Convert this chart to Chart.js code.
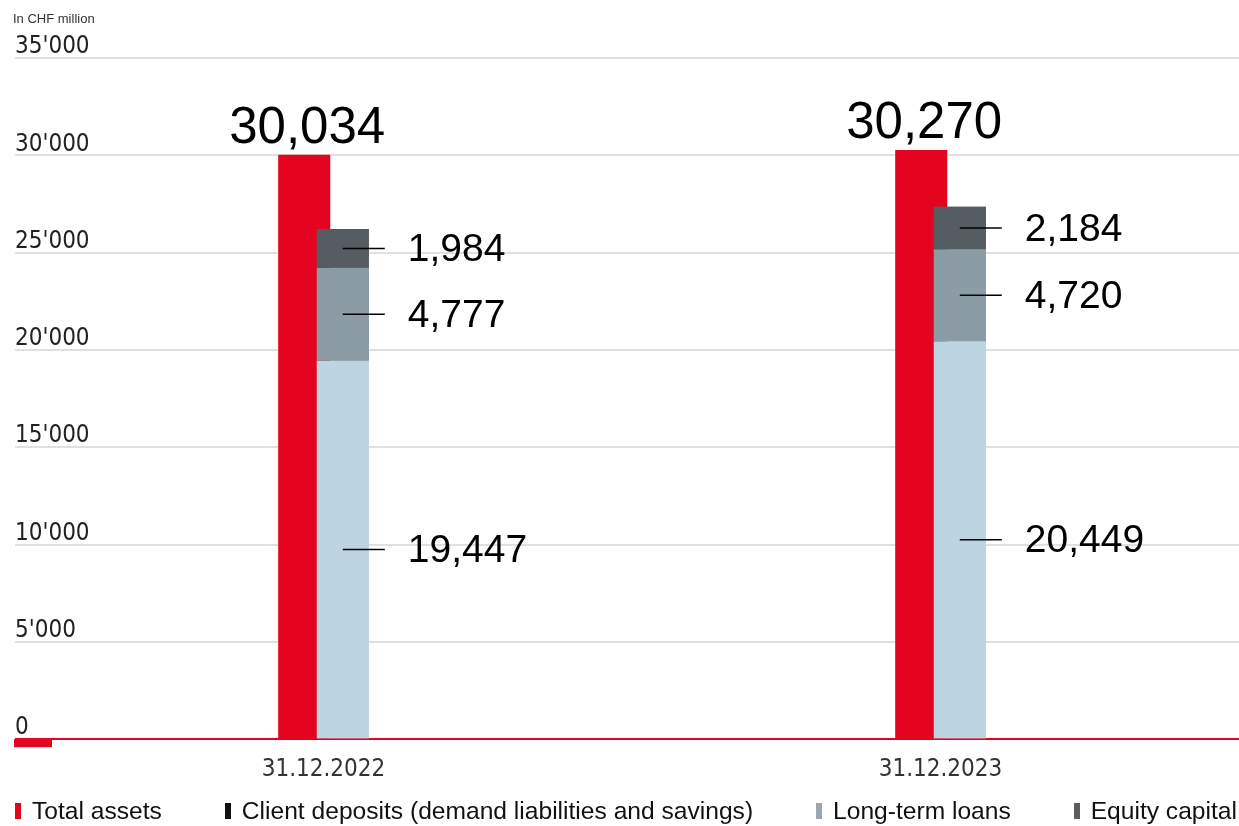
<!DOCTYPE html>
<html>
<head>
<meta charset="utf-8">
<script src="https://cdn.jsdelivr.net/npm/chart.js@4.4.1/dist/chart.umd.min.js"></script>
<style>
  html, body { margin: 0; padding: 0; background: #fff; overflow: hidden; }
  #wrap { position: relative; width: 1250px; height: 800px; }
  #legend {
    position: absolute; left: 15px; right: 2px; top: 797px; height: 28px;
    display: flex; justify-content: space-between; align-items: center;
    font-family: 'Liberation Sans', Arial, sans-serif; font-size: 24.6px; color: #111;
  }
  #legend span.item { display: flex; align-items: center; white-space: nowrap; }
  #legend i { display: inline-block; width: 6px; height: 16px; margin-right: 11px; }
</style>
</head>
<body>
<div id="wrap"><canvas id="balanceChart"></canvas></div>
<div id="legend"></div>
<script>
// Bilanzstruktur in Mio. CHF
const categories = ['31.12.2022', '31.12.2023'];
const totalAssets = [30034, 30270];
const clientDeposits = [19447, 20449];
const longTermLoans = [4777, 4720];
const equityCapital = [1984, 2184];
const yTickLabels = ["0", "5'000", "10'000", "15'000", "20'000", "25'000", "30'000", "35'000"];

const seriesNames = ['Total assets', 'Client deposits (demand liabilities and savings)', 'Long-term loans', 'Equity capital'];
const barColors = ['#e30520', '#bdd5e0', '#8c9ca5', '#555d63'];
const legendColors = ['#e30520', '#111111', '#9aa7b0', '#5a5d60'];

const numFont = "'Liberation Sans', Arial, sans-serif";
const narrowFont = "'Liberation Sans Narrow', 'DejaVu Sans Condensed', 'Arial Narrow', sans-serif";

// legenda sotto il grafico
const legendEl = document.getElementById('legend');
seriesNames.forEach(function (name, i) {
    const item = document.createElement('span');
    item.className = 'item';
    item.innerHTML = '<i style="background:' + legendColors[i] + '"></i>' + name;
    legendEl.appendChild(item);
});

const fmt = function (v) { return v.toLocaleString('en-US'); };

// le colonne impilate vanno sopra la colonna rossa
const stackOnTop = {
    id: 'stackOnTop',
    afterDatasetsDraw(chart) {
        for (let i = 1; i < chart.data.datasets.length; i++) {
            chart.getDatasetMeta(i).controller.draw();
        }
    }
};

// etichette dei valori, didascalia e piccolo segno rosso sotto lo zero
const valueLabels = {
    id: 'valueLabels',
    afterDraw(chart) {
        const ctx = chart.ctx;
        const area = chart.chartArea;
        const y0 = chart.scales.y.getPixelForValue(0);
        ctx.save();
        ctx.fillStyle = barColors[0];
        ctx.fillRect(area.left - 1, y0, 38, 8);

        ctx.font = '13px ' + numFont;
        ctx.fillStyle = '#333';
        ctx.textBaseline = 'middle';
        ctx.fillText('In CHF million', 13, 19);

        ctx.fillStyle = '#000';
        ctx.font = '51px ' + numFont;
        ctx.textAlign = 'center';
        ctx.textBaseline = 'alphabetic';
        chart.getDatasetMeta(0).data.forEach(function (bar, j) {
            ctx.fillText(fmt(chart.data.datasets[0].data[j]), bar.x + 3, bar.y - 12);
        });

        ctx.font = '39px ' + numFont;
        ctx.textAlign = 'left';
        ctx.textBaseline = 'middle';
        ctx.strokeStyle = '#000';
        ctx.lineWidth = 1.5;
        for (let i = 1; i < chart.data.datasets.length; i++) {
            chart.getDatasetMeta(i).data.forEach(function (bar, j) {
                const mid = (bar.y + bar.base) / 2;
                ctx.beginPath();
                ctx.moveTo(bar.x, mid);
                ctx.lineTo(bar.x + 42, mid);
                ctx.stroke();
                ctx.fillText(fmt(chart.data.datasets[i].data[j]), bar.x + 65, mid + 2);
            });
        }
        ctx.restore();
    }
};

const ctx = document.getElementById('balanceChart').getContext('2d');
new Chart(ctx, {
    type: 'bar',
    data: {
        labels: categories,
        datasets: [
            { label: seriesNames[0], data: totalAssets, backgroundColor: barColors[0], stack: 'assets' },
            { label: seriesNames[1], data: clientDeposits, backgroundColor: barColors[1], stack: 'liabilities' },
            { label: seriesNames[2], data: longTermLoans, backgroundColor: barColors[2], stack: 'liabilities' },
            { label: seriesNames[3], data: equityCapital, backgroundColor: barColors[3], stack: 'liabilities' }
        ]
    },
    options: {
        responsive: true,
        maintainAspectRatio: false,
        animation: false,
        events: [],
        categoryPercentage: 0.125,
        barPercentage: 1.35,
        layout: { padding: { left: 15, right: 1, top: 58, bottom: 8 } },
        plugins: {
            legend: { display: false },
            tooltip: { enabled: false }
        },
        scales: {
            x: {
                stacked: true,
                grid: { display: false },
                border: { display: false },
                ticks: { color: '#333', padding: 8, font: { family: narrowFont, size: 24 } }
            },
            y: {
                stacked: true,
                min: 0,
                max: 35000,
                border: { display: false },
                grid: {
                    drawTicks: false,
                    lineWidth: 2,
                    color: function (c) { return c.tick && c.tick.value === 0 ? barColors[0] : '#e0e0e0'; }
                },
                ticks: {
                    stepSize: 5000,
                    mirror: true,
                    padding: 0,
                    labelOffset: -11,
                    color: '#222',
                    font: { family: narrowFont, size: 24 },
                    callback: function (value, index) { return yTickLabels[index]; }
                }
            }
        }
    },
    plugins: [stackOnTop, valueLabels]
});
</script>
</body>
</html>
